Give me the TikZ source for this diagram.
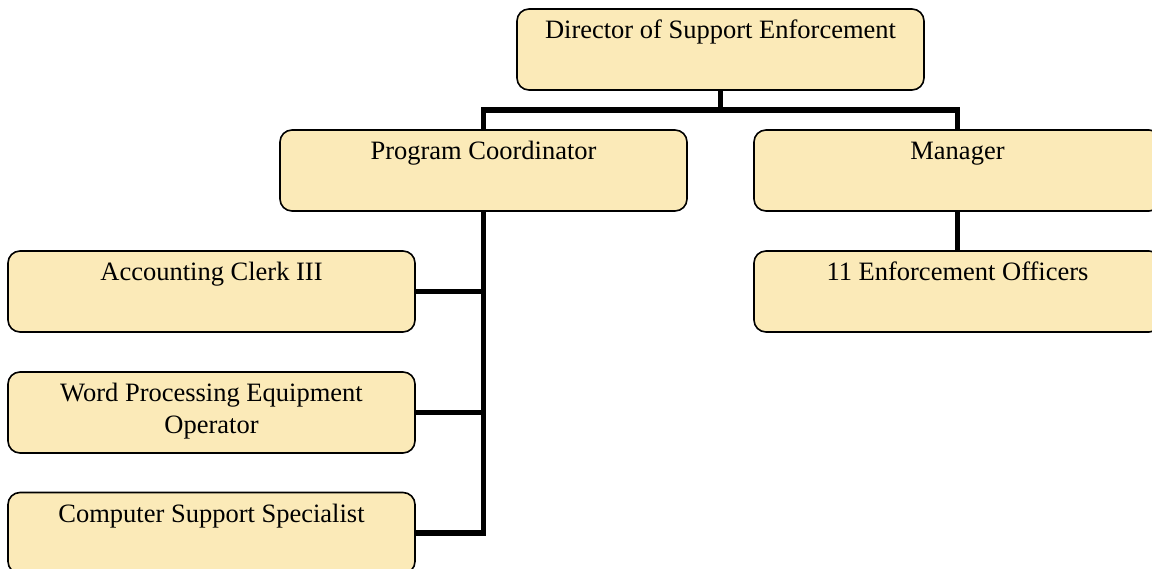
\documentclass[tikz,border=0pt]{standalone}
\usepackage{fontspec}
\setmainfont{Liberation Serif}
\definecolor{boxfill}{RGB}{251,234,184}
\tikzset{
  orgbox/.style={draw=black, line width=1.6pt, fill=boxfill, rounded corners=12pt,
    minimum width=407pt, minimum height=81pt, inner sep=0pt},
  orgtext/.style={anchor=base, inner sep=0pt, font=\fontsize{26.5}{31.5}\selectfont, align=center},
  conn/.style={line width=5.5pt, black, line join=miter, line cap=butt}
}
\begin{document}
\begin{tikzpicture}[x=1pt,y=-1pt]
\useasboundingbox (0,0) rectangle (1152,569);
% boxes
\node[orgbox] (dir) at (720.5,49.5) {};
\node[orgbox] (pc) at (483.5,170.5) {};
\node[orgbox] (mgr) at (957.5,170.5) {};
\node[orgbox] (eo) at (957.5,291.5) {};
\node[orgbox] (acc) at (211.5,291.5) {};
\node[orgbox] (wpe) at (211.5,412.5) {};
\node[orgbox] (css) at (211.5,533) {};
% texts
\node[orgtext] (dirt) at ([yshift=-30]dir.north) {Director of Support Enforcement};
\node[orgtext] (pct) at ([yshift=-30.5]pc.north) {Program Coordinator};
\node[orgtext] (mgrt) at ([yshift=-30.5]mgr.north) {Manager};
\node[orgtext] (eot) at ([yshift=-30.5]eo.north) {11 Enforcement Officers};
\node[orgtext] (acct) at ([yshift=-30.5]acc.north) {Accounting Clerk III};
\node[orgtext, anchor=north] (wpet) at ([yshift=-12]wpe.north) {Word Processing Equipment\\Operator};
\node[orgtext] (csst) at ([yshift=-30.5]css.north) {Computer Support Specialist};
% connectors
\coordinate (bus) at (720.5,110);
\draw[conn] (dir.south) -- (bus);
\draw[conn] (pc.north) |- (bus) -| (mgr.north);
\draw[conn] (mgr.south) -- (eo.north);
\draw[conn] (pc.south) |- (css.east);
\draw[conn] (acc.east) -- (acc.east -| pc.south);
\draw[conn] (wpe.east) -- (wpe.east -| pc.south);
\end{tikzpicture}
\end{document}
